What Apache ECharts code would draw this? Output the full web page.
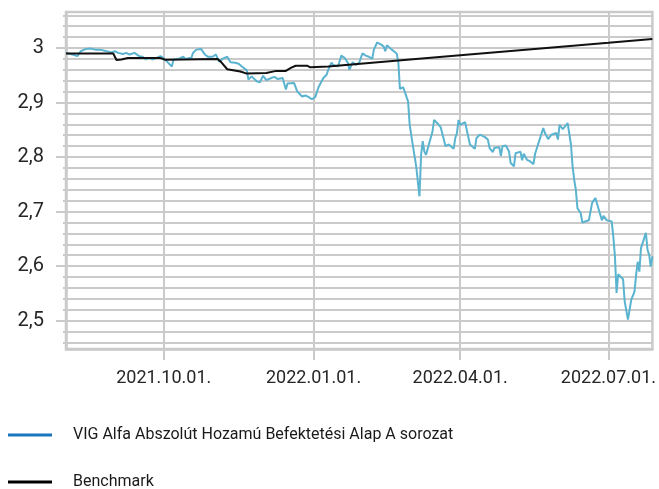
<!DOCTYPE html>
<html>
<head>
<meta charset="utf-8">
<script src="https://cdn.jsdelivr.net/npm/echarts@6/dist/echarts.min.js"></script>
<style>
html,body{margin:0;padding:0;background:#fff;}
#chart{width:659px;height:489px;}
</style>
</head>
<body>
<div id="chart"></div>
<script>
// ---- data ----
var seriesNames = ['VIG Alfa Abszolút Hozamú Befektetési Alap A sorozat', 'Benchmark'];

var fundDates = ['2021-08-02','2021-08-06','2021-08-09','2021-08-11','2021-08-14','2021-08-17','2021-08-20','2021-08-23','2021-08-27','2021-08-30',
'2021-09-01','2021-09-03','2021-09-06','2021-09-08','2021-09-10','2021-09-13','2021-09-16','2021-09-18','2021-09-20','2021-09-22','2021-09-24','2021-09-26','2021-09-29',
'2021-10-01','2021-10-03','2021-10-06','2021-10-07','2021-10-10','2021-10-13','2021-10-14','2021-10-18','2021-10-19','2021-10-21','2021-10-24','2021-10-26','2021-10-28','2021-10-31',
'2021-11-02','2021-11-04','2021-11-06','2021-11-09','2021-11-11','2021-11-14','2021-11-16','2021-11-18','2021-11-21','2021-11-22','2021-11-24','2021-11-27','2021-11-29',
'2021-12-01','2021-12-03','2021-12-06','2021-12-08','2021-12-10','2021-12-13','2021-12-15','2021-12-16','2021-12-20','2021-12-22','2021-12-25','2021-12-27','2021-12-29','2021-12-31',
'2022-01-02','2022-01-04','2022-01-07','2022-01-09','2022-01-10','2022-01-12','2022-01-13','2022-01-16','2022-01-18','2022-01-20','2022-01-22','2022-01-23','2022-01-25','2022-01-27','2022-01-29','2022-01-31',
'2022-02-02','2022-02-04','2022-02-06','2022-02-07','2022-02-09','2022-02-11','2022-02-13','2022-02-14','2022-02-15','2022-02-16','2022-02-18','2022-02-21','2022-02-22','2022-02-23','2022-02-25','2022-02-28',
'2022-03-01','2022-03-03','2022-03-05','2022-03-07','2022-03-08','2022-03-09','2022-03-10','2022-03-11','2022-03-15','2022-03-16','2022-03-18','2022-03-20','2022-03-23','2022-03-25','2022-03-28','2022-03-29','2022-03-30','2022-03-31',
'2022-04-01','2022-04-04','2022-04-07','2022-04-10','2022-04-11','2022-04-13','2022-04-16','2022-04-18','2022-04-19','2022-04-21','2022-04-22','2022-04-25','2022-04-26','2022-04-27','2022-04-29',
'2022-05-01','2022-05-02','2022-05-04','2022-05-05','2022-05-08','2022-05-09','2022-05-10','2022-05-12','2022-05-14','2022-05-16','2022-05-17','2022-05-18','2022-05-22','2022-05-23','2022-05-24','2022-05-25','2022-05-27','2022-05-30','2022-05-31',
'2022-06-01','2022-06-03','2022-06-06','2022-06-08','2022-06-09','2022-06-10','2022-06-11','2022-06-12','2022-06-14','2022-06-15','2022-06-19','2022-06-21','2022-06-23','2022-06-27','2022-06-28','2022-06-30',
'2022-07-03','2022-07-04','2022-07-05','2022-07-06','2022-07-07','2022-07-10','2022-07-11','2022-07-13','2022-07-15','2022-07-17','2022-07-18','2022-07-19','2022-07-20','2022-07-21','2022-07-24','2022-07-25','2022-07-26','2022-07-27','2022-07-28'];

var fundValues = [2.991,2.988,2.985,2.994,2.998,2.999,2.997,2.997,2.994,2.992,
2.994,2.991,2.989,2.991,2.988,2.991,2.985,2.984,2.979,2.982,2.979,2.981,2.985,
2.981,2.975,2.966,2.979,2.980,2.984,2.980,2.982,2.991,2.997,2.998,2.989,2.984,2.984,
2.988,2.975,2.980,2.984,2.974,2.973,2.971,2.966,2.959,2.942,2.948,2.939,2.937,
2.949,2.941,2.945,2.947,2.943,2.945,2.924,2.935,2.936,2.920,2.911,2.913,2.910,2.906,
2.910,2.928,2.945,2.951,2.960,2.973,2.969,2.966,2.986,2.982,2.973,2.960,2.974,2.969,2.973,2.990,
2.986,2.984,2.980,2.997,3.010,3.007,3.003,2.994,3.005,3.004,2.997,2.990,2.975,2.925,2.928,2.902,
2.859,2.820,2.783,2.728,2.804,2.829,2.810,2.804,2.847,2.868,2.862,2.855,2.820,2.823,2.815,2.835,2.844,2.868,
2.859,2.864,2.823,2.815,2.835,2.841,2.837,2.832,2.817,2.809,2.817,2.818,2.802,2.820,2.821,
2.810,2.789,2.783,2.807,2.810,2.794,2.806,2.795,2.792,2.787,2.806,2.804,2.853,2.844,2.843,2.833,2.841,2.844,2.832,
2.859,2.851,2.862,2.823,2.783,2.758,2.740,2.706,2.697,2.680,2.684,2.716,2.725,2.684,2.692,2.684,
2.682,2.654,2.618,2.551,2.585,2.576,2.535,2.502,2.538,2.553,2.584,2.608,2.590,2.633,2.661,2.630,2.621,2.599,2.618];

var benchDates = ['2021-08-02','2021-08-31','2021-09-02','2021-09-05','2021-09-09','2021-09-29','2021-10-02','2021-11-03','2021-11-05','2021-11-09',
'2021-11-17','2021-11-21','2021-12-03','2021-12-09','2021-12-15','2021-12-18','2021-12-21','2021-12-28','2021-12-30','2022-01-10',
'2022-02-22','2022-04-01','2022-05-24','2022-07-01','2022-07-28'];
var benchValues = [2.990,2.990,2.978,2.979,2.9815,2.9815,2.9785,2.980,2.975,2.961,
2.957,2.953,2.954,2.958,2.958,2.9635,2.9675,2.9675,2.9645,2.966,
2.977,2.9865,3.000,3.0095,3.0165];

var xTickDates = ['2021-10-01','2022-01-01','2022-04-01','2022-07-01'];
var xRange = ['2021-08-02','2022-07-28'];
var yTickLabels = [2.5, 2.6, 2.7, 2.8, 2.9, 3];
var yRange = [2.448, 3.066];
var yMinorStep = 0.02;

// ---- helpers ----
function ts(s){ var p = s.split('-'); return Date.UTC(+p[0], +p[1]-1, +p[2]); }
function pad(n){ return (n < 10 ? '0' : '') + n; }
function pairs(d, v){ return d.map(function(x, i){ return [ts(x), v[i]]; }); }

var yMinorTicks = [];
for (var k = Math.ceil(yRange[0] / yMinorStep); k * yMinorStep <= yRange[1]; k++) {
  yMinorTicks.push(Math.round(k * yMinorStep * 1000) / 1000);
}

var gridColor = '#cacaca';
var fontFam = 'Roboto, "Noto Sans", sans-serif';

var chart = echarts.init(document.getElementById('chart'), null, {renderer: 'canvas'});
chart.setOption({
  animation: false,
  backgroundColor: '#fff',
  grid: {
    left: 66, right: 2, top: 12, bottom: 140,
    show: true, borderColor: gridColor, borderWidth: 2.5, backgroundColor: 'transparent'
  },
  xAxis: {
    type: 'value',
    min: ts(xRange[0]), max: ts(xRange[1]),
    axisLine: { show: true, onZero: false, lineStyle: { color: gridColor, width: 2.5 } },
    axisTick: { show: true, length: 11, lineStyle: { color: gridColor, width: 2 }, customValues: xTickDates.map(ts) },
    axisLabel: {
      customValues: xTickDates.map(ts),
      margin: 20, color: '#262626', fontSize: 18, fontFamily: fontFam,
      formatter: function (v) { var d = new Date(v); return d.getUTCFullYear() + '.' + pad(d.getUTCMonth()+1) + '.' + pad(d.getUTCDate()) + '.'; }
    },
    splitLine: { show: true, lineStyle: { color: gridColor, width: 2 } },
    minorTick: { show: false }, minorSplitLine: { show: false }
  },
  yAxis: [{
    type: 'value',
    min: yRange[0], max: yRange[1],
    axisLine: { show: true, onZero: false, lineStyle: { color: gridColor, width: 2.5 } },
    axisTick: { show: true, length: 3, lineStyle: { color: gridColor, width: 2 }, customValues: yMinorTicks },
    axisLabel: {
      customValues: yTickLabels,
      margin: 22, color: '#262626', fontSize: 20, fontFamily: fontFam,
      formatter: function (v) { return String(v).replace('.', ','); }
    },
    splitLine: { show: true, lineStyle: { color: gridColor, width: 2 } }
  }, {
    type: 'value',
    position: 'left',
    min: yRange[0], max: yRange[1],
    axisLine: { show: false, onZero: false },
    axisTick: { show: true, length: 10, lineStyle: { color: gridColor, width: 2 }, customValues: yTickLabels },
    axisLabel: { show: false },
    splitLine: { show: false }
  }],
  legend: {
    orient: 'vertical',
    left: 8, top: 427, height: 120, width: 640,
    padding: 0,
    itemWidth: 44, itemHeight: 3, itemGap: 31,
    icon: 'rect',
    textStyle: { fontSize: 16, color: '#1a1a1a', fontFamily: fontFam, padding: [0, 0, 0, 16], lineHeight: 16 },
    data: [
      { name: seriesNames[0], itemStyle: { color: '#1a76bc' } },
      { name: seriesNames[1], itemStyle: { color: '#000' } }
    ]
  },
  series: [{
    name: seriesNames[0],
    type: 'line',
    data: pairs(fundDates, fundValues),
    showSymbol: false,
    lineStyle: { color: '#5ab3cf', width: 2 },
    itemStyle: { color: '#5ab3cf' },
    z: 3
  }, {
    name: seriesNames[1],
    type: 'line',
    data: pairs(benchDates, benchValues),
    showSymbol: false,
    lineStyle: { color: '#111', width: 2 },
    itemStyle: { color: '#111' },
    z: 4
  }]
});
</script>
</body>
</html>
